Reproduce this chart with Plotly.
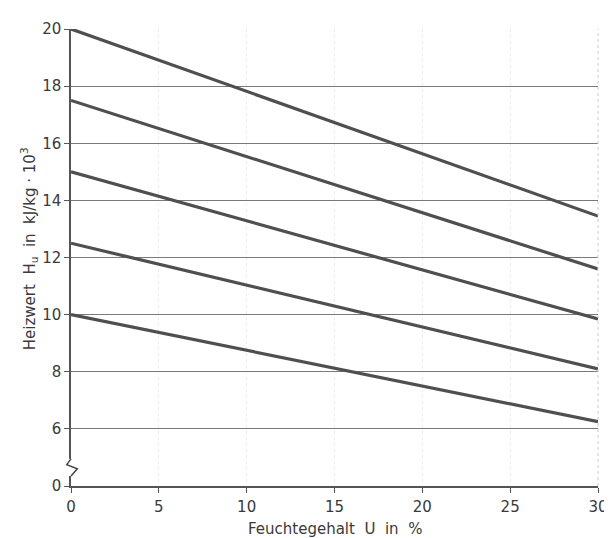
import plotly.graph_objects as go

# Data
u_values = [0, 30]
start_values = [20.0, 17.5, 15.0, 12.5, 10.0]
end_values = [13.45, 11.6, 9.85, 8.1, 6.25]

x_ticks = [0, 5, 10, 15, 20, 25, 30]
y_tick_values = [0, 6, 8, 10, 12, 14, 16, 18, 20]

# Broken y axis: value 0 is drawn one grid step below 6
def ymap(v):
    return 4 if v == 0 else v

fig = go.Figure()
for s, e in zip(start_values, end_values):
    fig.add_trace(go.Scatter(x=u_values, y=[s, e], mode="lines",
                             line=dict(color="#4f4f4f", width=3.2),
                             showlegend=False, hoverinfo="skip"))

font = dict(family="DejaVu Sans, sans-serif", size=15, color="#3a3a3a")

fig.update_layout(
    width=612, height=538,
    margin=dict(l=63, r=12, t=14, b=60),
    paper_bgcolor="white", plot_bgcolor="white",
    font=font,
    xaxis=dict(range=[0, 30], tickvals=x_ticks, ticktext=[str(t) for t in x_ticks],
               showgrid=True, gridcolor="#ececec", griddash="dot", gridwidth=1,
               ticks="outside", ticklen=5, tickcolor="#555", ticklabelstandoff=1,
               ticklabeloverflow="allow",
               showline=True, linecolor="#555", linewidth=1.5, zeroline=False),
    yaxis=dict(range=[4, 20], tickvals=[ymap(v) for v in y_tick_values],
               ticktext=[str(v) for v in y_tick_values],
               showgrid=True, gridcolor="#7a7a7a", gridwidth=1,
               ticks="outside", ticklen=5, tickcolor="#555",
               showline=True, linecolor="#555", linewidth=1.5, zeroline=False),
)

fig.add_annotation(text="Feuchtegehalt  U  in  %", xref="paper", yref="paper",
                   x=0.5, y=-0.093, xanchor="center", yanchor="middle",
                   showarrow=False, font=dict(size=15))
fig.add_annotation(text="Heizwert  H<sub>u</sub>  in  kJ/kg · 10<sup>3</sup>",
                   xref="paper", yref="paper", x=-0.08, y=0.52,
                   xanchor="center", yanchor="middle", textangle=-90,
                   showarrow=False, font=dict(size=15))

# right border line
fig.add_shape(type="line", xref="paper", yref="paper", x0=1, x1=1, y0=0, y1=1,
              line=dict(color="#cccccc", width=1, dash="dot"))

# axis break zig-zag on y axis
fig.add_shape(type="rect", xref="paper", yref="y", x0=-0.004, x1=0.004, y0=4.35, y1=4.95,
              fillcolor="white", line=dict(width=0), layer="above")
fig.add_shape(type="path", xref="paper", yref="y",
              path="M 0,4.35 L 0.012,4.6 L -0.008,4.75 L 0,4.95",
              line=dict(color="#444", width=1.5), layer="above")

fig.write_html("out.html")
